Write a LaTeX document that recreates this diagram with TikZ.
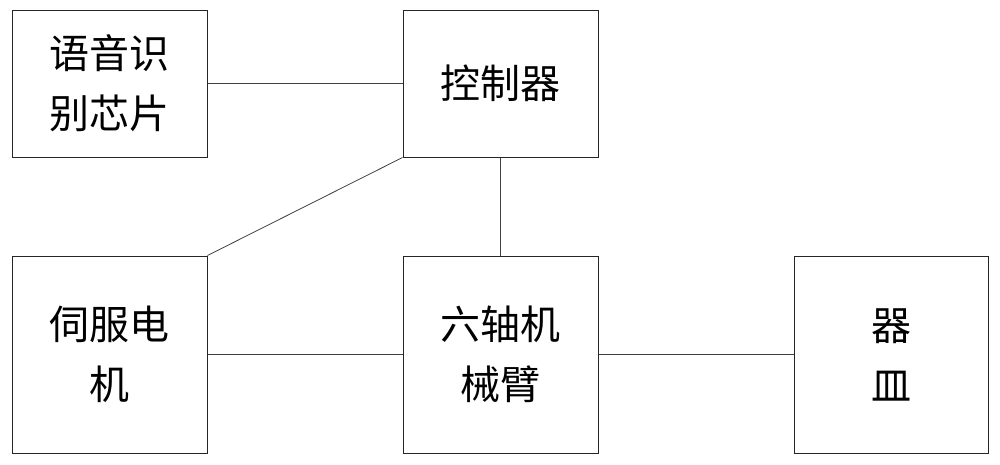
\documentclass[tikz,border=0pt]{standalone}
\usepackage{fontspec}
\newfontfamily\cjk{Noto Sans CJK SC}
\begin{document}
\begin{tikzpicture}[x=1pt,y=-1pt,
  blk/.style={draw=black!85,line width=1pt,minimum width=195pt,minimum height=147pt,inner sep=0pt,align=center,font=\cjk\fontsize{40}{60}\selectfont},
  lnk/.style={draw=black!75,line width=0.8pt}]
\useasboundingbox (0,0) rectangle (1000,464);
\node[blk] (chip) at (109.5,83.5) {语音识\\别芯片};
\node[blk] (ctrl) at (500.5,83.5) {控制器};
\node[blk,minimum height=197pt] (servo) at (109.5,354.5) {伺服电\\机};
\node[blk,minimum height=197pt] (arm) at (500.5,354.5) {六轴机\\械臂};
\node[blk,minimum width=194pt,minimum height=197pt] (dish) at (891,354.5) {器\\皿};
\draw[lnk] (chip.east) -- (ctrl.west);
\draw[lnk] (ctrl.south west) -- (servo.north east);
\draw[lnk] (ctrl.south) -- (arm.north);
\draw[lnk] (servo.east) -- (arm.west);
\draw[lnk] (arm.east) -- (dish.west);
\end{tikzpicture}
\end{document}
